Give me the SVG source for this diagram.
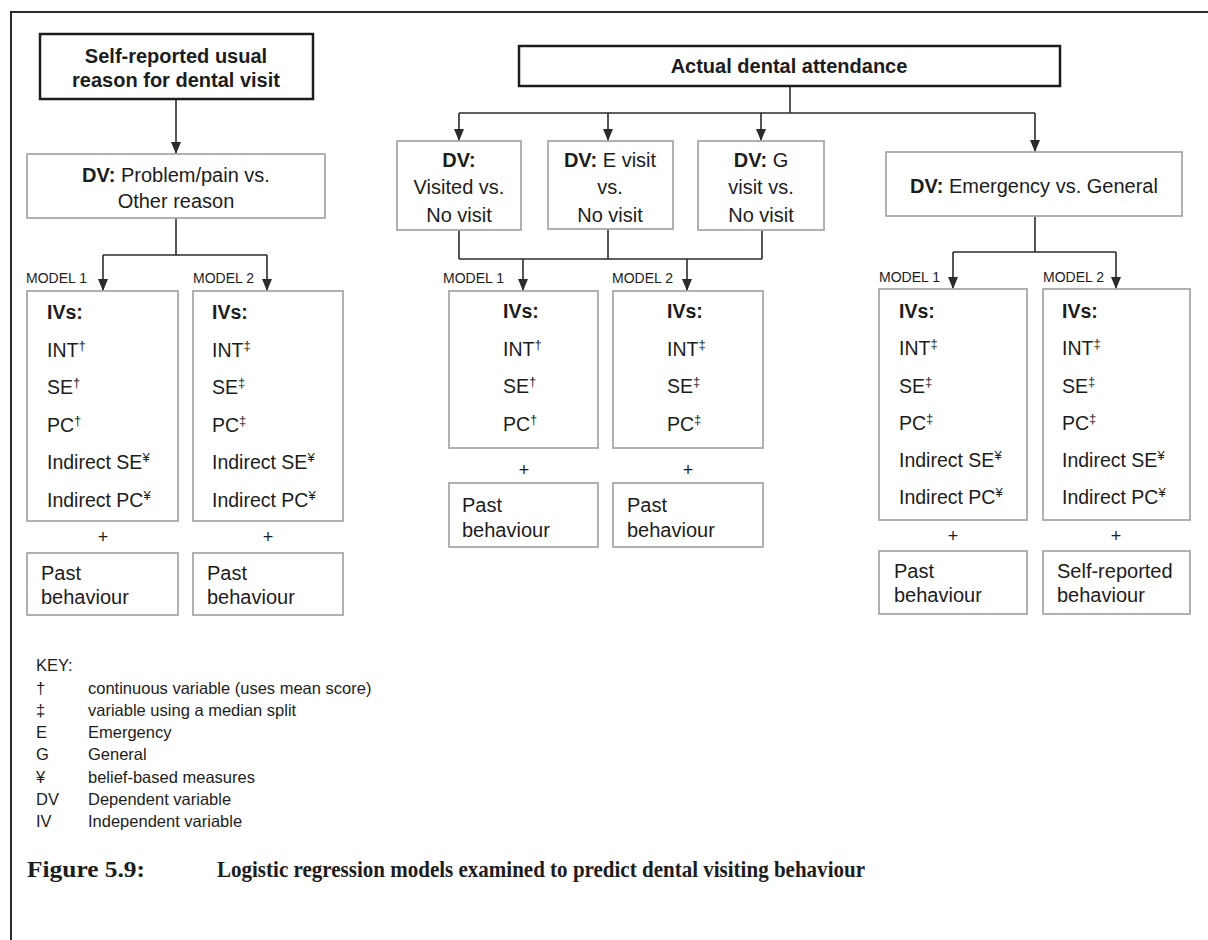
<svg xmlns="http://www.w3.org/2000/svg" width="1208" height="940" viewBox="0 0 1208 940">
  <style>
    .frame { stroke:#2b2b2b; stroke-width:2; fill:none; }
    .head { fill:#fff; stroke:#1c1c1c; stroke-width:2.5; }
    .box { fill:#fff; stroke:#a9a9a9; stroke-width:1.8; }
    .conn { stroke:#2b2b2b; stroke-width:1.6; fill:none; }
    .arrow { stroke:#2b2b2b; stroke-width:1.6; fill:none; marker-end:url(#tip); }
    text { font-family:"Liberation Sans", Arial, sans-serif; fill:#1c1c1c; }
    .t20 { font-size:20px; }
    .b20 { font-size:20px; font-weight:bold; }
    .iv { font-size:19.5px; }
    .model { font-size:14px; }
    .plus { font-size:18px; text-anchor:middle; }
    .mid { text-anchor:middle; }
    .key { font-size:16.5px; }
    .cap { font-family:"Liberation Serif", "Times New Roman", serif; font-size:24px; font-weight:bold; }
    .sup { font-size:13px; }
  </style>
  <defs>
    <marker id="tip" viewBox="0 0 12 10" refX="12" refY="5" markerWidth="12" markerHeight="10" markerUnits="userSpaceOnUse" orient="auto">
      <path d="M0,0 L12,5 L0,10 z" fill="#2b2b2b"/>
    </marker>
  </defs>

  <rect width="1208" height="940" fill="#fff"/>

  <!-- page frame: top rule and left rule -->
  <path class="frame" d="M11,940 V12 H1208"/>

  <!-- connectors -->
  <g id="connectors">
    <!-- left branch -->
    <line class="arrow" x1="176" y1="99" x2="176" y2="154"/>
    <line class="conn" x1="176" y1="218" x2="176" y2="255"/>
    <line class="conn" x1="103" y1="255" x2="267" y2="255"/>
    <line class="arrow" x1="103" y1="255" x2="103" y2="291"/>
    <line class="arrow" x1="267" y1="255" x2="267" y2="291"/>

    <!-- actual attendance fan-out -->
    <line class="conn" x1="790" y1="86" x2="790" y2="113"/>
    <line class="conn" x1="459" y1="113" x2="1035" y2="113"/>
    <line class="arrow" x1="459" y1="113" x2="459" y2="141"/>
    <line class="arrow" x1="608" y1="113" x2="608" y2="141"/>
    <line class="arrow" x1="761" y1="113" x2="761" y2="141"/>
    <line class="arrow" x1="1035" y1="113" x2="1035" y2="152"/>

    <!-- three DV boxes merge -->
    <line class="conn" x1="459" y1="230" x2="459" y2="259"/>
    <line class="conn" x1="608" y1="229" x2="608" y2="259"/>
    <line class="conn" x1="762" y1="230" x2="762" y2="259"/>
    <line class="conn" x1="459" y1="259" x2="762" y2="259"/>
    <line class="arrow" x1="523" y1="259" x2="523" y2="291"/>
    <line class="arrow" x1="687" y1="259" x2="687" y2="291"/>

    <!-- emergency vs general -->
    <line class="conn" x1="1035" y1="216" x2="1035" y2="252"/>
    <line class="conn" x1="953" y1="252" x2="1116" y2="252"/>
    <line class="arrow" x1="953" y1="252" x2="953" y2="289"/>
    <line class="arrow" x1="1116" y1="252" x2="1116" y2="289"/>
  </g>

  <!-- left column -->
  <g id="self-reported">
    <rect class="head" x="40" y="34" width="273" height="65"/>
    <text class="b20 mid" x="176" y="63">Self-reported usual</text>
    <text class="b20 mid" x="176" y="87">reason for dental visit</text>
  </g>

  <g id="dv-problem">
    <rect class="box" x="27" y="154" width="298" height="64"/>
    <text class="t20 mid" x="176" y="182"><tspan font-weight="bold">DV:</tspan> Problem/pain vs.</text>
    <text class="t20 mid" x="176" y="208">Other reason</text>
  </g>

  <g id="label-l1"><text class="model" x="26" y="283">MODEL 1</text></g>
  <g id="label-l2"><text class="model" x="193" y="283">MODEL 2</text></g>

  <g id="ivs-l1">
    <rect class="box" x="27" y="291" width="151" height="230"/>
    <text class="iv" x="47" y="319" font-weight="bold">IVs:</text>
    <text class="iv" x="47" y="357">INT<tspan class="sup" dy="-7">†</tspan></text>
    <text class="iv" x="47" y="394">SE<tspan class="sup" dy="-7">†</tspan></text>
    <text class="iv" x="47" y="432">PC<tspan class="sup" dy="-7">†</tspan></text>
    <text class="iv" x="47" y="469">Indirect SE<tspan class="sup" dy="-7">¥</tspan></text>
    <text class="iv" x="47" y="507">Indirect PC<tspan class="sup" dy="-7">¥</tspan></text>
  </g>
  <g id="ivs-l2">
    <rect class="box" x="193" y="291" width="150" height="230"/>
    <text class="iv" x="212" y="319" font-weight="bold">IVs:</text>
    <text class="iv" x="212" y="357">INT<tspan class="sup" dy="-7">‡</tspan></text>
    <text class="iv" x="212" y="394">SE<tspan class="sup" dy="-7">‡</tspan></text>
    <text class="iv" x="212" y="432">PC<tspan class="sup" dy="-7">‡</tspan></text>
    <text class="iv" x="212" y="469">Indirect SE<tspan class="sup" dy="-7">¥</tspan></text>
    <text class="iv" x="212" y="507">Indirect PC<tspan class="sup" dy="-7">¥</tspan></text>
  </g>
  <g id="plus-l1"><text class="plus" x="103" y="543">+</text></g>
  <g id="plus-l2"><text class="plus" x="268" y="543">+</text></g>
  <g id="past-l1">
    <rect class="box" x="27" y="553" width="151" height="62"/>
    <text class="t20" x="41" y="580">Past</text>
    <text class="t20" x="41" y="604">behaviour</text>
  </g>
  <g id="past-l2">
    <rect class="box" x="193" y="553" width="150" height="62"/>
    <text class="t20" x="207" y="580">Past</text>
    <text class="t20" x="207" y="604">behaviour</text>
  </g>

  <!-- middle column -->
  <g id="actual-attendance">
    <rect class="head" x="519" y="46" width="541" height="40"/>
    <text class="b20 mid" x="789" y="73">Actual dental attendance</text>
  </g>

  <g id="dv-visited">
    <rect class="box" x="397" y="141" width="124" height="89"/>
    <text class="b20 mid" x="459" y="167">DV:</text>
    <text class="t20 mid" x="459" y="194">Visited vs.</text>
    <text class="t20 mid" x="459" y="222">No visit</text>
  </g>
  <g id="dv-e-visit">
    <rect class="box" x="548" y="141" width="125" height="88"/>
    <text class="t20 mid" x="610" y="167"><tspan font-weight="bold">DV:</tspan> E visit</text>
    <text class="t20 mid" x="610" y="194">vs.</text>
    <text class="t20 mid" x="610" y="222">No visit</text>
  </g>
  <g id="dv-g-visit">
    <rect class="box" x="698" y="141" width="126" height="89"/>
    <text class="t20 mid" x="761" y="167"><tspan font-weight="bold">DV:</tspan> G</text>
    <text class="t20 mid" x="761" y="194">visit vs.</text>
    <text class="t20 mid" x="761" y="222">No visit</text>
  </g>

  <g id="label-m1"><text class="model" x="443" y="283">MODEL 1</text></g>
  <g id="label-m2"><text class="model" x="612" y="283">MODEL 2</text></g>

  <g id="ivs-m1">
    <rect class="box" x="449" y="291" width="149" height="157"/>
    <text class="iv" x="503" y="318" font-weight="bold">IVs:</text>
    <text class="iv" x="503" y="356">INT<tspan class="sup" dy="-7">†</tspan></text>
    <text class="iv" x="503" y="393">SE<tspan class="sup" dy="-7">†</tspan></text>
    <text class="iv" x="503" y="431">PC<tspan class="sup" dy="-7">†</tspan></text>
  </g>
  <g id="ivs-m2">
    <rect class="box" x="613" y="291" width="150" height="157"/>
    <text class="iv" x="667" y="318" font-weight="bold">IVs:</text>
    <text class="iv" x="667" y="356">INT<tspan class="sup" dy="-7">‡</tspan></text>
    <text class="iv" x="667" y="393">SE<tspan class="sup" dy="-7">‡</tspan></text>
    <text class="iv" x="667" y="431">PC<tspan class="sup" dy="-7">‡</tspan></text>
  </g>
  <g id="plus-m1"><text class="plus" x="524" y="476">+</text></g>
  <g id="plus-m2"><text class="plus" x="688" y="476">+</text></g>
  <g id="past-m1">
    <rect class="box" x="449" y="483" width="149" height="64"/>
    <text class="t20" x="462" y="512">Past</text>
    <text class="t20" x="462" y="537">behaviour</text>
  </g>
  <g id="past-m2">
    <rect class="box" x="613" y="483" width="150" height="64"/>
    <text class="t20" x="627" y="512">Past</text>
    <text class="t20" x="627" y="537">behaviour</text>
  </g>

  <!-- right column -->
  <g id="dv-emergency">
    <rect class="box" x="886" y="152" width="296" height="64"/>
    <text class="t20 mid" x="1034" y="193"><tspan font-weight="bold">DV:</tspan> Emergency vs. General</text>
  </g>

  <g id="label-r1"><text class="model" x="879" y="282">MODEL 1</text></g>
  <g id="label-r2"><text class="model" x="1043" y="282">MODEL 2</text></g>

  <g id="ivs-r1">
    <rect class="box" x="879" y="289" width="148" height="231"/>
    <text class="iv" x="899" y="318" font-weight="bold">IVs:</text>
    <text class="iv" x="899" y="355">INT<tspan class="sup" dy="-7">‡</tspan></text>
    <text class="iv" x="899" y="393">SE<tspan class="sup" dy="-7">‡</tspan></text>
    <text class="iv" x="899" y="430">PC<tspan class="sup" dy="-7">‡</tspan></text>
    <text class="iv" x="899" y="467">Indirect SE<tspan class="sup" dy="-7">¥</tspan></text>
    <text class="iv" x="899" y="504">Indirect PC<tspan class="sup" dy="-7">¥</tspan></text>
  </g>
  <g id="ivs-r2">
    <rect class="box" x="1043" y="289" width="147" height="231"/>
    <text class="iv" x="1062" y="318" font-weight="bold">IVs:</text>
    <text class="iv" x="1062" y="355">INT<tspan class="sup" dy="-7">‡</tspan></text>
    <text class="iv" x="1062" y="393">SE<tspan class="sup" dy="-7">‡</tspan></text>
    <text class="iv" x="1062" y="430">PC<tspan class="sup" dy="-7">‡</tspan></text>
    <text class="iv" x="1062" y="467">Indirect SE<tspan class="sup" dy="-7">¥</tspan></text>
    <text class="iv" x="1062" y="504">Indirect PC<tspan class="sup" dy="-7">¥</tspan></text>
  </g>
  <g id="plus-r1"><text class="plus" x="953" y="542">+</text></g>
  <g id="plus-r2"><text class="plus" x="1116" y="542">+</text></g>
  <g id="past-r1">
    <rect class="box" x="879" y="551" width="148" height="63"/>
    <text class="t20" x="894" y="578">Past</text>
    <text class="t20" x="894" y="602">behaviour</text>
  </g>
  <g id="self-reported-r2">
    <rect class="box" x="1043" y="551" width="147" height="63"/>
    <text class="t20" x="1057" y="578">Self-reported</text>
    <text class="t20" x="1057" y="602">behaviour</text>
  </g>

  <!-- key -->
  <g id="key">
    <text class="key" x="36" y="671">KEY:</text>
    <text class="key" x="36" y="694">†</text><text class="key" x="88" y="694">continuous variable (uses mean score)</text>
    <text class="key" x="36" y="716">‡</text><text class="key" x="88" y="716">variable using a median split</text>
    <text class="key" x="36" y="738">E</text><text class="key" x="88" y="738">Emergency</text>
    <text class="key" x="36" y="760">G</text><text class="key" x="88" y="760">General</text>
    <text class="key" x="36" y="783">¥</text><text class="key" x="88" y="783">belief-based measures</text>
    <text class="key" x="36" y="805">DV</text><text class="key" x="88" y="805">Dependent variable</text>
    <text class="key" x="36" y="827">IV</text><text class="key" x="88" y="827">Independent variable</text>
  </g>

  <!-- caption -->
  <g id="caption">
    <text class="cap" x="27" y="877" textLength="118" lengthAdjust="spacingAndGlyphs">Figure 5.9:</text>
    <text class="cap" x="217" y="877" textLength="648" lengthAdjust="spacingAndGlyphs">Logistic regression models examined to predict dental visiting behaviour</text>
  </g>
</svg>
